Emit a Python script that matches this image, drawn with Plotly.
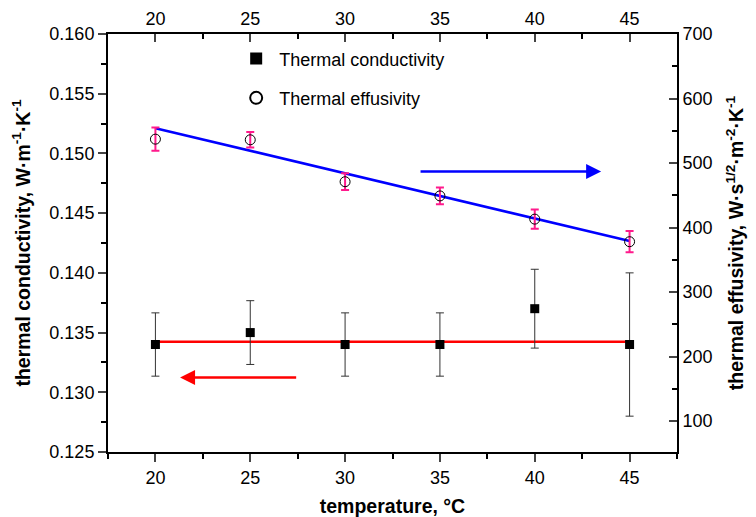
import plotly.graph_objects as go

# ---- data ----
temperature = [20, 25, 30, 35, 40, 45]
conductivity = [0.134, 0.135, 0.134, 0.134, 0.137, 0.134]
conductivity_err = [0.00265, 0.00267, 0.00265, 0.00265, 0.0033, 0.006]
effusivity = [537, 536, 471, 449, 413, 378]
effusivity_err = [18, 12, 13, 13, 15, 16.5]
fit_x = [20, 45]
conductivity_fit = [0.13423, 0.13423]
effusivity_fit = [554, 379]
x_ticks = [20, 25, 30, 35, 40, 45]

FONT = "Liberation Sans, Arial, sans-serif"

fig = go.Figure()

# conductivity fit line (left axis)
fig.add_trace(go.Scatter(x=fit_x, y=conductivity_fit, mode="lines",
                         line=dict(color="#FF0000", width=2.5),
                         showlegend=False, hoverinfo="skip"))
# effusivity fit line (right axis)
fig.add_trace(go.Scatter(x=fit_x, y=effusivity_fit, mode="lines",
                         line=dict(color="#0000FF", width=2.5),
                         yaxis="y2", showlegend=False, hoverinfo="skip"))

fig.add_trace(go.Scatter(
    x=temperature, y=conductivity, mode="markers", name="Thermal conductivity",
    marker=dict(symbol="square", size=9, color="black"),
    error_y=dict(type="data", array=conductivity_err, color="#333333",
                 thickness=1, width=4),
    legendgroup="a"))

fig.add_trace(go.Scatter(
    x=temperature, y=effusivity, mode="markers", name="Thermal effusivity",
    marker=dict(symbol="circle-open", size=10, color="black",
                line=dict(width=1, color="black")),
    error_y=dict(type="data", array=effusivity_err, color="#FF1A8C",
                 thickness=2, width=4),
    yaxis="y2", legendgroup="b"))

# invisible trace to activate the top axis
fig.add_trace(go.Scatter(x=temperature, y=conductivity, mode="markers",
                         marker=dict(opacity=0), xaxis="x2",
                         showlegend=False, hoverinfo="skip"))

tickfont = dict(family=FONT, size=18, color="black")
titlefont = dict(family=FONT, size=19.5, color="black", weight="bold")

fig.update_layout(
    width=756, height=517,
    margin=dict(l=108, r=79, t=34, b=65, autoexpand=False),
    paper_bgcolor="white", plot_bgcolor="white",
    font=dict(family=FONT, size=18, color="black"),
    xaxis=dict(range=[17.5, 47.5], tickvals=x_ticks, ticks="outside",
               ticklen=8, tickwidth=1.5, showline=True, linecolor="black",
               linewidth=2, showgrid=False, zeroline=False, tickfont=tickfont,
               automargin=False,
               minor=dict(dtick=2.5, tick0=17.5, ticks="outside", ticklen=5,
                          tickwidth=1.5, tickcolor="black"),
               title=dict(text="<b>temperature, °C</b>", font=titlefont, standoff=14)),
    xaxis2=dict(range=[17.5, 47.5], tickvals=x_ticks, ticks="inside",
                ticklen=8, tickwidth=1.5, showline=True, linecolor="black",
                linewidth=2, showgrid=False, zeroline=False, tickfont=tickfont,
                side="top", overlaying="x", anchor="y", automargin=False,
                minor=dict(dtick=2.5, tick0=17.5, ticks="inside", ticklen=5,
                           tickwidth=1.5, tickcolor="black")),
    yaxis=dict(range=[0.125, 0.160], dtick=0.005, tickformat=".3f",
               ticks="outside", ticklen=8, tickwidth=1.5, showline=True,
               linecolor="black", linewidth=2, showgrid=False, zeroline=False,
               tickfont=tickfont, automargin=False,
               minor=dict(dtick=0.0025, ticks="outside", ticklen=5,
                          tickwidth=1.5, tickcolor="black"),
               title=dict(text="<b>thermal conductivity, W·m<sup>-1</sup>·K<sup>-1</sup></b>",
                          font=titlefont, standoff=14)),
    yaxis2=dict(range=[52, 700], tickvals=[100, 200, 300, 400, 500, 600, 700],
                ticks="inside", ticklen=8, tickwidth=1.5, showline=True,
                linecolor="black", linewidth=2, showgrid=False, zeroline=False,
                tickfont=tickfont, side="right", overlaying="y", anchor="x",
                automargin=False,
                minor=dict(tickvals=[150, 250, 350, 450, 550, 650],
                           ticks="inside", ticklen=5, tickwidth=1.5,
                           tickcolor="black"),
                title=dict(text="<b>thermal effusivity, W·s<sup>1/2</sup>·m<sup>-2</sup>·K<sup>-1</sup></b>",
                           font=titlefont, standoff=18)),
    legend=dict(x=0.22, y=0.985, xanchor="left", yanchor="top",
                bgcolor="rgba(0,0,0,0)", font=dict(family=FONT, size=18),
                tracegroupgap=13, itemsizing="constant", itemwidth=36),
    annotations=[
        dict(x=43.5, y=487, ax=33.9, ay=487, xref="x", yref="y2",
             axref="x", ayref="y2", showarrow=True, arrowhead=2,
             arrowsize=1.2, arrowwidth=2.5, arrowcolor="#0000FF", text=""),
        dict(x=21.3, y=0.13124, ax=27.5, ay=0.13124, xref="x", yref="y",
             axref="x", ayref="y", showarrow=True, arrowhead=2,
             arrowsize=1.2, arrowwidth=2.5, arrowcolor="#FF0000", text=""),
    ],
)

fig.write_html("out.html")
